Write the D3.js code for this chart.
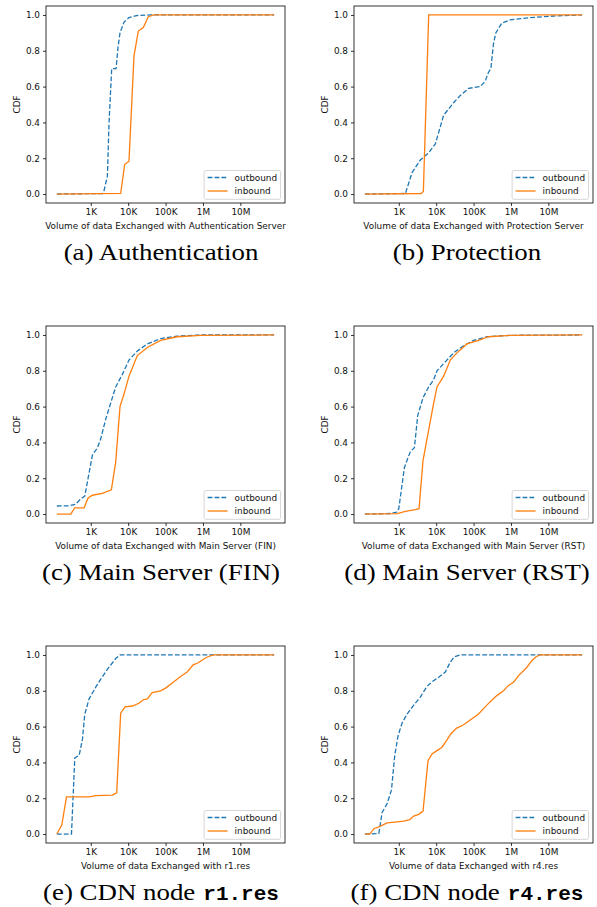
<!DOCTYPE html>
<html>
<head>
<meta charset="utf-8">
<script src="https://cdn.jsdelivr.net/npm/d3@7"></script>
<style>
  html, body { margin: 0; padding: 0; background: #fff; }
  svg { display: block; }
</style>
</head>
<body>
<svg id="chart" width="597" height="907"></svg>
<script>
// data: [bytes, cdf]
let authOut = [[124,0],[2046,0.003],[2268,0.02],[2783,0.1],[3082,0.4],[3631,0.7],[4742,0.7],[5358,0.82],[6050,0.9],[7743,0.96],[10520,0.985],[17550,0.997],[39800,1],[8e7,1]];
let authIn = [[124,0],[6310,0.004],[8070,0.165],[10520,0.183],[14300,0.77],[18670,0.91],[25400,0.93],[34500,0.99],[48900,1],[8e7,1]];

let protOut = [[124,0],[1506,0.003],[2268,0.12],[3783,0.19],[6310,0.23],[9500,0.28],[15850,0.44],[29290,0.51],[44060,0.55],[73560,0.59],[150600,0.6],[204600,0.63],[251000,0.68],[290000,0.7],[341500,0.84],[394500,0.9],[570000,0.955],[950000,0.972],[3.24e6,0.985],[1.67e7,0.995],[8e7,1]];
let protIn = [[124,0],[3945,0.003],[4550,0.015],[6310,1],[8e7,1]];

let finOut = [[124,0.045],[264,0.046],[398,0.055],[541,0.085],[692,0.1],[849,0.2],[1108,0.33],[1506,0.37],[1848,0.42],[2512,0.53],[3415,0.62],[4642,0.71],[6990,0.78],[10520,0.86],[17550,0.91],[32430,0.95],[73560,0.98],[204600,0.993],[857700,1],[8e7,1]];
let finIn = [[124,0],[293,0],[374,0.035],[664,0.035],[849,0.09],[1108,0.105],[2046,0.115],[3556,0.135],[4642,0.29],[6050,0.6],[7743,0.67],[10520,0.77],[17550,0.885],[32430,0.93],[73560,0.97],[204600,0.99],[857700,0.998],[8e7,1]];

let rstOut = [[124,0],[600,0.003],[867,0.01],[1000,0.03],[1416,0.26],[2046,0.35],[2618,0.37],[3212,0.55],[4457,0.65],[6310,0.71],[8577,0.75],[10520,0.8],[17550,0.85],[29290,0.9],[54120,0.94],[100000,0.97],[226800,0.99],[950000,0.998],[8e7,1]];
let rstIn = [[124,0],[903,0.002],[1506,0.015],[2783,0.025],[3484,0.03],[4457,0.3],[6310,0.47],[8577,0.62],[10520,0.71],[15850,0.77],[23870,0.86],[35940,0.9],[66370,0.95],[135900,0.97],[251200,0.99],[950000,0.998],[8e7,1]];

let r1Out = [[124,0],[305,0],[374,0.425],[489,0.44],[600,0.53],[692,0.67],[903,0.755],[1359,0.82],[1848,0.865],[2783,0.92],[4642,0.98],[6050,1],[8e7,1]];
let r1In = [[124,0],[168,0.05],[224,0.207],[903,0.207],[1359,0.215],[3783,0.217],[4934,0.23],[6310,0.675],[8240,0.71],[12910,0.715],[19450,0.73],[25360,0.75],[32430,0.755],[44060,0.79],[73560,0.8],[100000,0.815],[166800,0.85],[251200,0.88],[378200,0.905],[546500,0.945],[727800,0.955],[1.01e6,0.975],[1.346e6,0.99],[1.945e6,1],[8e7,1]];

let r4Out = [[124,0],[293,0.003],[359,0.12],[489,0.17],[637,0.245],[782,0.44],[960,0.55],[1227,0.62],[1668,0.67],[2512,0.72],[3783,0.765],[5702,0.825],[7743,0.85],[11660,0.875],[17550,0.905],[23870,0.96],[30500,0.99],[44060,1],[8e7,1]];
let r4In = [[124,0],[168,0],[215,0.03],[293,0.04],[489,0.062],[903,0.068],[1359,0.072],[1963,0.08],[2512,0.1],[3415,0.11],[4457,0.128],[6050,0.41],[7743,0.447],[10520,0.466],[14310,0.485],[18670,0.52],[24890,0.56],[34510,0.59],[54120,0.61],[81470,0.637],[135900,0.67],[184800,0.7],[267100,0.735],[418700,0.773],[631000,0.8],[857700,0.83],[1.166e6,0.848],[1.687e6,0.89],[2.642e6,0.93],[3.594e6,0.968],[4.691e6,0.99],[5.995e6,1],[8e7,1]];

let xTicks = [1e3, 1e4, 1e5, 1e6, 1e7];
let xTickLabels = ["1K", "10K", "100K", "1M", "10M"];
let yTicks = [0, 0.2, 0.4, 0.6, 0.8, 1.0];
let seriesNames = ["outbound", "inbound"];

let xLabels = [
    "Volume of data Exchanged with Authentication Server",
    "Volume of data Exchanged with Protection Server",
    "Volume of data Exchanged with Main Server (FIN)",
    "Volume of data Exchanged with Main Server (RST)",
    "Volume of data Exchanged with r1.res",
    "Volume of data Exchanged with r4.res"
];
let captions = [
    ["(a) Authentication", ""],
    ["(b) Protection", ""],
    ["(c) Main Server (FIN)", ""],
    ["(d) Main Server (RST)", ""],
    ["(e) CDN node", "r1.res"],
    ["(f) CDN node", "r4.res"]
];
let outData = [authOut, protOut, finOut, rstOut, r1Out, r4Out];
let inData = [authIn, protIn, finIn, rstIn, r1In, r4In];

// layout -------------------------------------------------
const W = 239, H = 197;
const lefts = [46, 354];
const tops = [6, 326, 646];
const capX = [161, 467];
const FS = 8.9;
const FONT = "DejaVu Sans";
const BLUE = "#1f77b4", ORANGE = "#ff7f0e";

var svg = d3.select("#chart");

// x extent of all the data, log scale with 5% margins like matplotlib
let lx = d3.extent(outData.concat(inData).flat(), d => Math.log10(d[0]));
let pad = (lx[1] - lx[0]) * 0.05;
let xDomain = [Math.pow(10, lx[0] - pad), Math.pow(10, lx[1] + pad)];

let style_axis = (sel) => {
    sel.attr("font-family", FONT).attr("font-size", FS);
    sel.select(".domain").remove();
    sel.selectAll(".tick line").attr("stroke", "#000").attr("stroke-width", 0.8);
    sel.selectAll(".tick text").attr("fill", "#111");
}

let draw_panel = (i) => {
    let left = lefts[i % 2], top = tops[Math.floor(i / 2)];
    let g = svg.append("g").attr("transform", `translate(${left},${top})`);

    let scX = d3.scaleLog().domain(xDomain).range([0, W]);
    let scY = d3.scaleLinear().domain([-0.05, 1.05]).range([H, 0]);

    g.append("g")
        .attr("transform", `translate(0,${H})`)
        .call(d3.axisBottom(scX).tickValues(xTicks)
            .tickFormat(d => xTickLabels[xTicks.indexOf(d)])
            .tickSizeInner(3).tickSizeOuter(0).tickPadding(3))
        .call(style_axis);

    g.append("g")
        .call(d3.axisLeft(scY).tickValues(yTicks).tickFormat(d3.format(".1f"))
            .tickSizeInner(3).tickSizeOuter(0).tickPadding(3))
        .call(style_axis);

    let line = d3.line().x(d => scX(d[0])).y(d => scY(d[1]));

    g.append("path").datum(outData[i])
        .attr("d", line).attr("fill", "none")
        .attr("stroke", BLUE).attr("stroke-width", 1.3)
        .attr("stroke-dasharray", "4.8,2.1");
    g.append("path").datum(inData[i])
        .attr("d", line).attr("fill", "none")
        .attr("stroke", ORANGE).attr("stroke-width", 1.3);

    // frame
    g.append("rect").attr("width", W).attr("height", H)
        .attr("fill", "none").attr("stroke", "#000").attr("stroke-width", 0.8);

    // labels
    g.append("text").attr("x", W / 2).attr("y", H + 26)
        .attr("text-anchor", "middle").attr("font-family", FONT).attr("font-size", FS)
        .attr("fill", "#111").text(xLabels[i]);
    g.append("text").attr("transform", `translate(-29,${H / 2}) rotate(-90)`)
        .attr("dy", "0.35em").attr("text-anchor", "middle")
        .attr("font-family", FONT).attr("font-size", FS).attr("fill", "#111").text("CDF");

    // legend
    let leg = g.append("g");
    let box = leg.append("rect");
    let texts = seriesNames.map((name, k) =>
        leg.append("text").attr("y", H - 25.5 + k * 13.5).attr("dy", "0.35em")
            .attr("font-family", FONT).attr("font-size", FS).attr("fill", "#111").text(name));
    let tw = d3.max(texts, t => t.node().getComputedTextLength());
    let bw = 3.5 + 20 + 7 + tw + 3.5;
    let bx = W - 4.4 - bw;
    box.attr("x", bx).attr("y", H - 32.5).attr("width", bw).attr("height", 28.8)
        .attr("rx", 1.8).attr("fill", "#fff").attr("fill-opacity", 0.8)
        .attr("stroke", "#ccc").attr("stroke-width", 0.8);
    texts.forEach(t => t.attr("x", bx + 30.5));
    [BLUE, ORANGE].forEach((c, k) => {
        let yy = H - 25.5 + k * 13.5;
        leg.append("line").attr("x1", bx + 3.5).attr("x2", bx + 23.5)
            .attr("y1", yy).attr("y2", yy)
            .attr("stroke", c).attr("stroke-width", 1.3)
            .attr("stroke-dasharray", k == 0 ? "4.8,2.1" : null);
    });

    draw_caption(capX[i % 2], top + 254, captions[i][0], captions[i][1]);
}

// caption: roman part + optional typewriter part, centred on cx
let draw_caption = (cx, y, roman, mono) => {
    let g = svg.append("g");
    let t1 = g.append("text").attr("font-family", "Liberation Serif").attr("font-size", 24)
        .attr("fill", "#000").attr("transform", "scale(1.12,1)").text(roman);
    let w = t1.node().getComputedTextLength() * 1.12;
    if (mono) {
        w += 8;
        let t2 = g.append("text").attr("x", w).attr("font-family", "Liberation Mono")
            .attr("font-weight", "bold").attr("font-size", 21).attr("fill", "#000").text(mono);
        w += t2.node().getComputedTextLength();
    }
    g.attr("transform", `translate(${cx - w / 2},${y})`);
}

for (let i = 0; i < 6; i++) {
    draw_panel(i);
}
</script>
</body>
</html>
